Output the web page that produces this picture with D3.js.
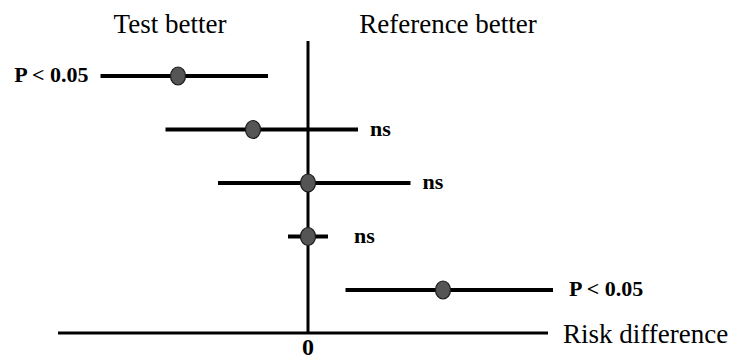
<!DOCTYPE html>
<html>
<head>
<meta charset="utf-8">
<script src="https://cdn.jsdelivr.net/npm/d3@7"></script>
<style>
  html, body { margin: 0; padding: 0; background: #fff; }
  svg { display: block; }
  text { font-family: "Liberation Serif", "Times New Roman", Times, serif; fill: #000; }
</style>
</head>
<body>
<svg id="chart" width="735" height="357"></svg>
<script>
// Risk difference (percentage points) for each comparison: lower CI, estimate, upper CI
const comparisons = ["A", "B", "C", "D", "E"];
const lower    = [-8.3, -5.7, -3.6, -0.8, 1.5];
const estimate = [-5.2, -2.2,  0.0,  0.0, 5.4];
const upper    = [-1.6,  2.0,  4.1,  0.8, 9.8];
const significance = ["P < 0.05", "ns", "ns", "ns", "P < 0.05"];
const sideLabels = ["Test better", "Reference better"];
const axisTitle = "Risk difference";
const zeroTick = [0];

// where each significance label sits relative to its interval (side, gap in px)
const labelSide = ["left", "right", "right", "right", "right"];
const labelGap  = [12, 12, 12, 26, 16];

const svg = d3.select("#chart");

const x = d3.scaleLinear().domain([-10, 9.6]).range([58, 548]);
const y = d3.scalePoint().domain(comparisons).range([76, 290]);
const axisY = 333;
const topY = 41;

// horizontal risk-difference axis
svg.append("line")
  .attr("x1", x.range()[0]).attr("x2", x.range()[1])
  .attr("y1", axisY).attr("y2", axisY)
  .attr("stroke", "#000").attr("stroke-width", 3);

// line of no difference
svg.append("line")
  .attr("x1", x(0)).attr("x2", x(0))
  .attr("y1", topY).attr("y2", axisY)
  .attr("stroke", "#000").attr("stroke-width", 3);

// zero tick label
svg.selectAll("text.tick").data(zeroTick).join("text")
  .attr("class", "tick")
  .attr("x", d => x(d)).attr("y", 355)
  .attr("text-anchor", "middle")
  .attr("font-size", 24).attr("font-weight", "bold")
  .text(d => d);

// axis title
svg.append("text")
  .attr("x", x.range()[1] + 15).attr("y", axisY + 10)
  .attr("font-size", 27)
  .text(axisTitle);

// side headings
svg.selectAll("text.side").data(sideLabels).join("text")
  .attr("class", "side")
  .attr("x", (d, i) => x(0) + (i === 0 ? -138 : 140))
  .attr("y", 33)
  .attr("text-anchor", "middle")
  .attr("font-size", 27)
  .text(d => d);

const rows = comparisons.map((c, i) => ({
  c, lo: lower[i], est: estimate[i], hi: upper[i],
  sig: significance[i], side: labelSide[i], gap: labelGap[i]
}));

// confidence intervals
svg.selectAll("line.ci").data(rows).join("line")
  .attr("class", "ci")
  .attr("x1", d => x(d.lo)).attr("x2", d => x(d.hi))
  .attr("y1", d => y(d.c)).attr("y2", d => y(d.c))
  .attr("stroke", "#000").attr("stroke-width", 4);

// point estimates
svg.selectAll("ellipse.pt").data(rows).join("ellipse")
  .attr("class", "pt")
  .attr("cx", d => x(d.est)).attr("cy", d => y(d.c))
  .attr("rx", 7.5).attr("ry", 9)
  .attr("fill", "#555").attr("stroke", "#1a1a1a").attr("stroke-width", 1.2);

// significance labels
svg.selectAll("text.sig").data(rows).join("text")
  .attr("class", "sig")
  .attr("x", d => d.side === "left" ? x(d.lo) - d.gap : x(d.hi) + d.gap)
  .attr("y", d => y(d.c) + 6)
  .attr("text-anchor", d => d.side === "left" ? "end" : "start")
  .attr("font-size", 22).attr("font-weight", "bold")
  .text(d => d.sig);
</script>
</body>
</html>
